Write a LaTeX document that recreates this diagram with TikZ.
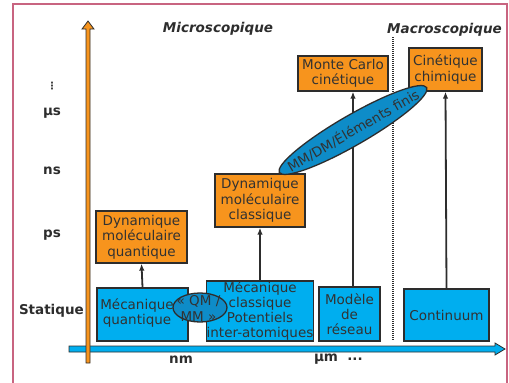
\documentclass[tikz,border=0pt]{standalone}
\usepackage{fontspec}
\setmainfont{DejaVu Sans}
\usetikzlibrary{shapes.geometric,arrows.meta}
\definecolor{orng}{RGB}{247,148,29}
\definecolor{cyanb}{RGB}{0,174,239}
\definecolor{ellb}{RGB}{14,140,200}
\definecolor{dk}{RGB}{45,45,45}
\definecolor{txt}{RGB}{50,50,50}
\definecolor{framec}{RGB}{200,100,128}
\newcommand{\boxfont}{\fontsize{13.5}{15.3}\selectfont}
\newcommand{\lblfont}{\fontsize{13.5}{15}\selectfont\bfseries}
\tikzset{
  basebox/.style={draw=dk, line width=1.3pt, text=txt, align=center, inner sep=0pt, font=\boxfont},
  obox/.style={basebox, fill=orng},
  bbox/.style={basebox, fill=cyanb},
  ellbox/.style={ellipse, draw=dk, line width=1.3pt, fill=ellb, inner sep=0pt},
  boxtext/.style={text=txt, align=center, inner sep=0pt, font=\boxfont},
  lbl/.style={text=dk, inner sep=0pt, font=\lblfont},
  conn/.style={draw=dk, line width=1.8pt, -{Latex[length=7pt,width=5.5pt]}},
}
\begin{document}
\begin{tikzpicture}[x=1pt,y=-1pt]
\useasboundingbox (0,0) rectangle (509,383);
\clip (0,0) rectangle (509,383);
% frame
\draw[framec, line width=1.2pt] (13,400) -- (13,4) -- (507,4) -- (507,400);
% horizontal axis (blue)
\draw[dk, fill=cyanb, line width=0.8pt] (69,346) -- (495,346) -- (495,343) -- (505,349) -- (495,355) -- (495,352) -- (69,352) -- cycle;
% vertical axis (orange)
\draw[dk, fill=orng, line width=0.8pt] (86,363) -- (86,29) -- (82,29) -- (88,21) -- (94,29) -- (90,29) -- (90,363) -- cycle;
% separator
\draw[dk, line width=1.4pt, dash pattern=on 1.2pt off 0.8pt] (393,37) -- (393,340);
% axis labels
\node[text=dk, inner sep=0pt, font=\fontsize{10}{11}\selectfont\bfseries] (vd) at (52,86) {⋮};
\node[lbl] (us) at (52,113) {µs};
\node[lbl] (ns) at (52,171) {ns};
\node[lbl] (ps) at (52,235) {ps};
\node[lbl, anchor=east] (st) at (84,311) {Statique};
\node[lbl] (nm) at (181,360) {nm};
\node[lbl] (um) at (326,359) {µm};
\node[lbl] (dd) at (355,359) {...};
\node[lbl, font=\fontsize{13.5}{15}\selectfont\bfseries\itshape] (micro) at (218,29) {Microscopique};
\node[lbl, font=\fontsize{13.5}{15}\selectfont\bfseries\itshape] (macro) at (444.5,30) {Macroscopique};
% blue boxes
\node[bbox, minimum width=91pt, minimum height=53pt] (mq) at (142.5,314.5) {};
\node[boxtext] (mqt) at (137,313) {Mécanique\\quantique};
\node[bbox, minimum width=106pt, minimum height=60pt] (mc) at (260,311) {Mécanique\\classique\\Potentiels\\inter-atomiques};
\node[bbox, minimum width=61pt, minimum height=54pt] (mr) at (349.5,314) {Modèle\\de\\réseau};
\node[bbox, minimum width=85pt, minimum height=52pt] (ct) at (446.5,315) {Continuum};
% orange boxes
\node[obox, minimum width=91pt, minimum height=52pt] (dmq) at (141.5,237) {Dynamique\\moléculaire\\quantique};
\node[obox, minimum width=90pt, minimum height=53pt] (dmc) at (260,200.5) {Dynamique\\moléculaire\\classique};
\node[obox, minimum width=90pt, minimum height=35pt] (mcc) at (343,73.5) {Monte Carlo\\cinétique};
\node[obox, minimum width=73pt, minimum height=43pt] (cc) at (445.5,69.5) {Cinétique\\chimique};
% connectors
\coordinate (x3) at (353,0);
\draw[conn] (mq.north) -- (dmq.south);
\draw[conn] (mc.north) -- (dmc.south);
\draw[conn] (mr.north -| x3) -- (mcc.south -| x3);
\draw[conn] (ct.north) -- (cc.south);
% ellipses
\node[ellbox, minimum width=54pt, minimum height=29pt] (qm) at (200,307.5) {};
\node[boxtext] (qmt) at (198.5,308.5) {« QM /\\MM »};
\node[ellbox, minimum width=170pt, minimum height=30pt, rotate=30] (mm) at (353,130) {};
\node[boxtext, rotate=30] (mmt) at (mm.center) {MM/DM/Éléments finis};
\end{tikzpicture}
\end{document}
